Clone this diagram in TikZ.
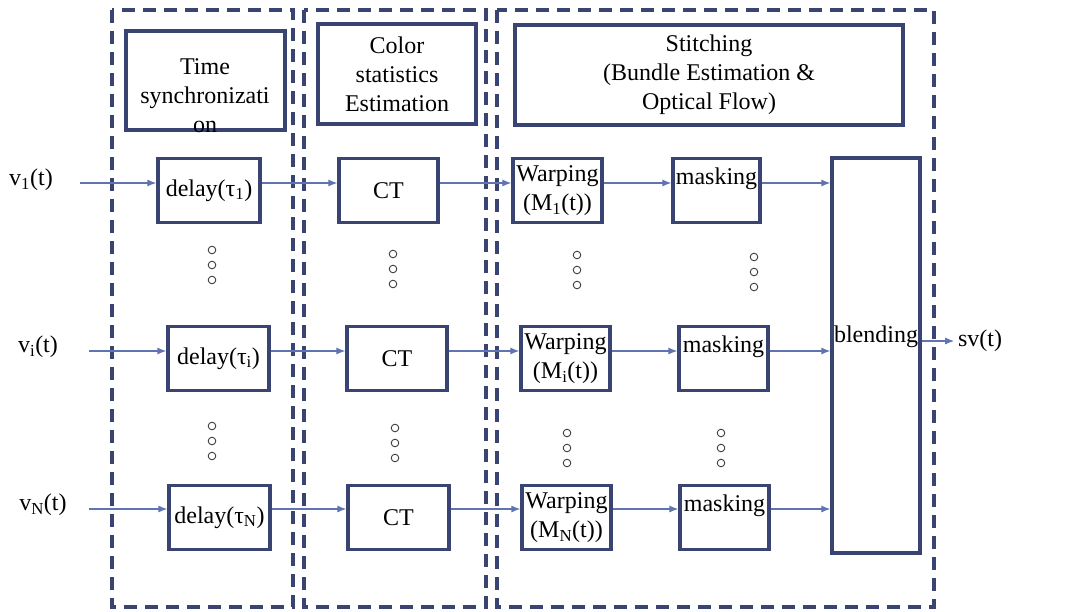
\documentclass[tikz,border=0pt]{standalone}
\usepackage{fontspec}
\setmainfont{Liberation Serif}
\usetikzlibrary{positioning,arrows.meta}
\definecolor{boxblue}{RGB}{58,68,114}
\definecolor{arrowblue}{RGB}{96,116,178}

\begin{document}
\begin{tikzpicture}[x=1pt,y=-1pt,line width=1pt,
                font=\fontsize{24}{29}\selectfont,
                blk/.style={draw=boxblue,line width=3.3pt,minimum height=64,inner sep=0pt,align=center},
                grp/.style={draw=boxblue,line width=3.4pt,dash pattern=on 13pt off 8pt},
                flow/.style={draw=arrowblue,line width=1.1pt,-{Latex[length=9pt,width=7pt]}},
                dots/.style={draw=black!75,line width=0.9pt}]
                \useasboundingbox (0,0) rectangle (1075,612);
                % dashed stages
                \draw[grp] (112,10) rectangle (293,607);
                \draw[grp] (304,10) rectangle (486,607);
                \draw[grp] (497,10) rectangle (934,607);
                % stage titles
                \node[blk,minimum width=159,minimum height=99] (tsync) at (205.5,80.5) {};
                \node[align=center] (tsynctxt) at (205,96) {Time\\synchronizati\\on};
                \node[blk,minimum width=158,minimum height=100] (cstat) at (397,74) {Color\\statistics\\Estimation};
                \node[blk,minimum width=388,minimum height=100] (stitch) at (709,75) {Stitching\\(Bundle Estimation \&\\Optical Flow)};
                % rows
                \coordinate (r1) at (0,183);
                \coordinate (ri) at (0,351);
                \coordinate (rN) at (0,509);
                \node (v1) at (31,180) {v\textsubscript{1}(t)};
                \node (vi) at (38,347) {v\textsubscript{i}(t)};
                \node (vN) at (43,505) {v\textsubscript{N}(t)};
                \coordinate (in1) at (80,183);
                \coordinate (ini) at (89,351);
                \coordinate (inN) at (89,509);
                \node[blk,minimum width=102] (d1) at (209,190.5) {delay(τ\textsubscript{1})};
                \node[blk,minimum width=99] (c1) at (388.5,190.5) {CT};
                \node[blk,minimum width=89] (w1) at (557.5,190.5) {Warping\\(M\textsubscript{1}(t))};
                \node[blk,minimum width=87] (m1) at (716.5,190.5) {masking\\\mbox{}};
                \node[blk,minimum width=101] (di) at (218.5,358.5) {delay(τ\textsubscript{i})};
                \node[blk,minimum width=100] (ci) at (397,358.5) {CT};
                \node[blk,minimum width=89] (wi) at (565.5,358.5) {Warping\\(M\textsubscript{i}(t))};
                \node[blk,minimum width=89] (mi) at (723.5,358.5) {masking\\\mbox{}};
                \node[blk,minimum width=101] (dN) at (219.5,517.5) {delay(τ\textsubscript{N})};
                \node[blk,minimum width=101] (cN) at (398.5,517.5) {CT};
                \node[blk,minimum width=89] (wN) at (566.5,517.5) {Warping\\(M\textsubscript{N}(t))};
                \node[blk,minimum width=89] (mN) at (724.5,517.5) {masking\\\mbox{}};
                \node[blk,minimum width=88,minimum height=395] (blend) at (876,355.5) {};
                \node (blendtxt) at (876,337) {blending};
                \node (sv) at (980,341) {sv(t)};
                % continuation dots
                \foreach \x/\y in {212/250,393/254,577/255,754/257,212/426,395/428,567/433,721/433}
                    \foreach \k in {0,1,2}
                        \draw[dots] (\x,\y+15*\k) circle (3.8pt);
                % connections
                \draw[flow] (in1) -- (d1.west |- r1);
                \draw[flow] (d1.east |- r1) -- (c1.west |- r1);
                \draw[flow] (c1.east |- r1) -- (w1.west |- r1);
                \draw[flow] (w1.east |- r1) -- (m1.west |- r1);
                \draw[flow] (m1.east |- r1) -- (blend.west |- r1);
                \draw[flow] (ini) -- (di.west |- ri);
                \draw[flow] (di.east |- ri) -- (ci.west |- ri);
                \draw[flow] (ci.east |- ri) -- (wi.west |- ri);
                \draw[flow] (wi.east |- ri) -- (mi.west |- ri);
                \draw[flow] (mi.east |- ri) -- (blend.west |- ri);
                \draw[flow] (inN) -- (dN.west |- rN);
                \draw[flow] (dN.east |- rN) -- (cN.west |- rN);
                \draw[flow] (cN.east |- rN) -- (wN.west |- rN);
                \draw[flow] (wN.east |- rN) -- (mN.west |- rN);
                \draw[flow] (mN.east |- rN) -- (blend.west |- rN);
                \draw[flow] (blend.east |- sv) -- (sv.west);
\end{tikzpicture}
\end{document}
